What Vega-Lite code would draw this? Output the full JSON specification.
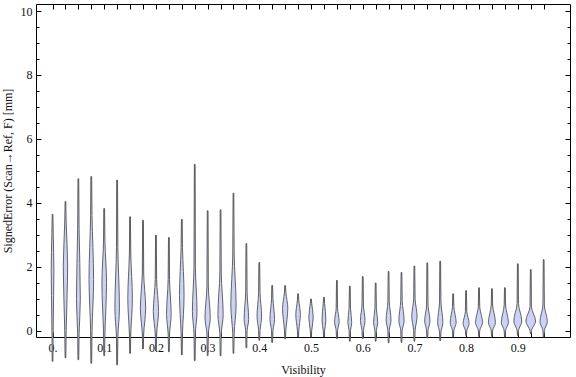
{
  "$schema": "https://vega.github.io/schema/vega-lite/v6.json",
  "width": 534,
  "height": 333,
  "autosize": {"type": "none"},
  "padding": {"left": 36, "top": 4, "right": 6, "bottom": 40},
  "config": {
    "font": "Liberation Serif",
    "view": {"stroke": null},
    "axis": {"grid": false, "domainColor": "#000", "domainWidth": 1, "tickColor": "#000", "tickWidth": 1, "labelFont": "Liberation Serif", "labelFontSize": 12, "labelColor": "#111", "titleFont": "Liberation Serif", "titleFontSize": 12, "titleFontWeight": "normal", "titleColor": "#111", "labelOverlap": false, "labelFlush": false}
  },
  "data": {"values": [
    {"visibility":0,"error":-0.96,"density":0.4},{"visibility":0,"error":0.3,"density":0.8},{"visibility":0,"error":1.9,"density":1.5},{"visibility":0,"error":3.0,"density":0.8},{"visibility":0,"error":3.64,"density":0.4},
    {"visibility":0.025,"error":-0.85,"density":0.4},{"visibility":0.025,"error":0.0,"density":0.8},{"visibility":0.025,"error":2.0,"density":2.5},{"visibility":0.025,"error":3.4,"density":0.8},{"visibility":0.025,"error":4.04,"density":0.4},
    {"visibility":0.05,"error":-0.91,"density":0.4},{"visibility":0.05,"error":-0.1,"density":0.8},{"visibility":0.05,"error":1.0,"density":2.2},{"visibility":0.05,"error":3.2,"density":0.8},{"visibility":0.05,"error":4.75,"density":0.4},
    {"visibility":0.075,"error":-1.02,"density":0.4},{"visibility":0.075,"error":0.0,"density":0.8},{"visibility":0.075,"error":1.6,"density":2.6},{"visibility":0.075,"error":3.6,"density":0.8},{"visibility":0.075,"error":4.82,"density":0.4},
    {"visibility":0.1,"error":-0.78,"density":0.4},{"visibility":0.1,"error":-0.1,"density":0.8},{"visibility":0.1,"error":1.5,"density":2.6},{"visibility":0.1,"error":2.8,"density":0.8},{"visibility":0.1,"error":3.82,"density":0.4},
    {"visibility":0.125,"error":-1.07,"density":0.4},{"visibility":0.125,"error":-0.2,"density":0.8},{"visibility":0.125,"error":0.7,"density":2.6},{"visibility":0.125,"error":2.6,"density":0.8},{"visibility":0.125,"error":4.71,"density":0.4},
    {"visibility":0.15,"error":-0.71,"density":0.4},{"visibility":0.15,"error":-0.1,"density":0.8},{"visibility":0.15,"error":1.0,"density":2.6},{"visibility":0.15,"error":2.4,"density":0.8},{"visibility":0.15,"error":3.56,"density":0.4},
    {"visibility":0.175,"error":-0.57,"density":0.4},{"visibility":0.175,"error":-0.1,"density":0.8},{"visibility":0.175,"error":0.7,"density":3.0},{"visibility":0.175,"error":1.8,"density":0.8},{"visibility":0.175,"error":3.45,"density":0.4},
    {"visibility":0.2,"error":-0.63,"density":0.4},{"visibility":0.2,"error":-0.1,"density":0.8},{"visibility":0.2,"error":0.6,"density":3.0},{"visibility":0.2,"error":1.6,"density":0.8},{"visibility":0.2,"error":2.98,"density":0.4},
    {"visibility":0.225,"error":-0.66,"density":0.4},{"visibility":0.225,"error":-0.1,"density":0.8},{"visibility":0.225,"error":0.5,"density":2.6},{"visibility":0.225,"error":1.6,"density":0.8},{"visibility":0.225,"error":2.91,"density":0.4},
    {"visibility":0.25,"error":-0.76,"density":0.4},{"visibility":0.25,"error":-0.1,"density":0.8},{"visibility":0.25,"error":1.1,"density":2.6},{"visibility":0.25,"error":2.6,"density":0.8},{"visibility":0.25,"error":3.48,"density":0.4},
    {"visibility":0.275,"error":-0.94,"density":0.4},{"visibility":0.275,"error":-0.1,"density":0.8},{"visibility":0.275,"error":0.6,"density":2.6},{"visibility":0.275,"error":2.0,"density":0.8},{"visibility":0.275,"error":5.2,"density":0.4},
    {"visibility":0.3,"error":-0.78,"density":0.4},{"visibility":0.3,"error":-0.1,"density":0.8},{"visibility":0.3,"error":0.4,"density":3.0},{"visibility":0.3,"error":1.4,"density":0.8},{"visibility":0.3,"error":3.75,"density":0.4},
    {"visibility":0.325,"error":-0.79,"density":0.4},{"visibility":0.325,"error":-0.1,"density":0.8},{"visibility":0.325,"error":0.5,"density":3.0},{"visibility":0.325,"error":1.8,"density":0.8},{"visibility":0.325,"error":3.78,"density":0.4},
    {"visibility":0.35,"error":-0.71,"density":0.4},{"visibility":0.35,"error":-0.1,"density":0.8},{"visibility":0.35,"error":0.8,"density":3.0},{"visibility":0.35,"error":2.4,"density":0.8},{"visibility":0.35,"error":4.3,"density":0.4},
    {"visibility":0.375,"error":-0.54,"density":0.4},{"visibility":0.375,"error":0.0,"density":0.8},{"visibility":0.375,"error":0.35,"density":2.6},{"visibility":0.375,"error":1.2,"density":0.8},{"visibility":0.375,"error":2.72,"density":0.4},
    {"visibility":0.4,"error":-0.3,"density":0.4},{"visibility":0.4,"error":0.0,"density":0.8},{"visibility":0.4,"error":0.45,"density":2.6},{"visibility":0.4,"error":1.2,"density":0.8},{"visibility":0.4,"error":2.13,"density":0.4},
    {"visibility":0.425,"error":-0.37,"density":0.4},{"visibility":0.425,"error":0.0,"density":0.8},{"visibility":0.425,"error":0.35,"density":2.6},{"visibility":0.425,"error":1.0,"density":0.8},{"visibility":0.425,"error":1.41,"density":0.4},
    {"visibility":0.45,"error":-0.26,"density":0.4},{"visibility":0.45,"error":0.0,"density":0.8},{"visibility":0.45,"error":0.7,"density":3.0},{"visibility":0.45,"error":1.2,"density":0.8},{"visibility":0.45,"error":1.41,"density":0.4},
    {"visibility":0.475,"error":-0.2,"density":0.4},{"visibility":0.475,"error":0.0,"density":0.8},{"visibility":0.475,"error":0.5,"density":2.6},{"visibility":0.475,"error":0.95,"density":0.8},{"visibility":0.475,"error":1.15,"density":0.4},
    {"visibility":0.5,"error":-0.2,"density":0.4},{"visibility":0.5,"error":0.0,"density":0.8},{"visibility":0.5,"error":0.42,"density":2.5},{"visibility":0.5,"error":0.85,"density":0.8},{"visibility":0.5,"error":0.99,"density":0.4},
    {"visibility":0.525,"error":-0.2,"density":0.4},{"visibility":0.525,"error":0.0,"density":0.8},{"visibility":0.525,"error":0.33,"density":2.2},{"visibility":0.525,"error":0.85,"density":0.8},{"visibility":0.525,"error":1.04,"density":0.4},
    {"visibility":0.55,"error":-0.25,"density":0.4},{"visibility":0.55,"error":0.0,"density":0.8},{"visibility":0.55,"error":0.28,"density":2.6},{"visibility":0.55,"error":0.7,"density":0.8},{"visibility":0.55,"error":1.57,"density":0.4},
    {"visibility":0.575,"error":-0.33,"density":0.4},{"visibility":0.575,"error":0.0,"density":0.8},{"visibility":0.575,"error":0.25,"density":2.2},{"visibility":0.575,"error":0.7,"density":0.8},{"visibility":0.575,"error":1.39,"density":0.4},
    {"visibility":0.6,"error":-0.25,"density":0.4},{"visibility":0.6,"error":0.0,"density":0.8},{"visibility":0.6,"error":0.32,"density":2.6},{"visibility":0.6,"error":0.8,"density":0.8},{"visibility":0.6,"error":1.69,"density":0.4},
    {"visibility":0.625,"error":-0.33,"density":0.4},{"visibility":0.625,"error":0.0,"density":0.8},{"visibility":0.625,"error":0.25,"density":2.4},{"visibility":0.625,"error":0.7,"density":0.8},{"visibility":0.625,"error":1.49,"density":0.4},
    {"visibility":0.65,"error":-0.38,"density":0.4},{"visibility":0.65,"error":0.0,"density":0.8},{"visibility":0.65,"error":0.33,"density":2.8},{"visibility":0.65,"error":0.9,"density":0.8},{"visibility":0.65,"error":1.85,"density":0.4},
    {"visibility":0.675,"error":-0.37,"density":0.4},{"visibility":0.675,"error":0.0,"density":0.8},{"visibility":0.675,"error":0.3,"density":3.0},{"visibility":0.675,"error":0.95,"density":0.8},{"visibility":0.675,"error":1.82,"density":0.4},
    {"visibility":0.7,"error":-0.33,"density":0.4},{"visibility":0.7,"error":0.0,"density":0.8},{"visibility":0.7,"error":0.45,"density":3.0},{"visibility":0.7,"error":1.0,"density":0.8},{"visibility":0.7,"error":2.02,"density":0.4},
    {"visibility":0.725,"error":-0.23,"density":0.4},{"visibility":0.725,"error":0.0,"density":0.8},{"visibility":0.725,"error":0.3,"density":3.0},{"visibility":0.725,"error":0.8,"density":0.8},{"visibility":0.725,"error":2.12,"density":0.4},
    {"visibility":0.75,"error":-0.31,"density":0.4},{"visibility":0.75,"error":-0.05,"density":0.8},{"visibility":0.75,"error":0.25,"density":3.0},{"visibility":0.75,"error":0.9,"density":0.8},{"visibility":0.75,"error":2.17,"density":0.4},
    {"visibility":0.775,"error":-0.2,"density":0.4},{"visibility":0.775,"error":0.0,"density":0.8},{"visibility":0.775,"error":0.25,"density":3.4},{"visibility":0.775,"error":0.75,"density":0.8},{"visibility":0.775,"error":1.15,"density":0.4},
    {"visibility":0.8,"error":-0.15,"density":0.4},{"visibility":0.8,"error":0.0,"density":0.8},{"visibility":0.8,"error":0.22,"density":3.4},{"visibility":0.8,"error":0.6,"density":0.8},{"visibility":0.8,"error":1.25,"density":0.4},
    {"visibility":0.825,"error":-0.18,"density":0.4},{"visibility":0.825,"error":0.0,"density":0.8},{"visibility":0.825,"error":0.25,"density":4.0},{"visibility":0.825,"error":0.75,"density":0.8},{"visibility":0.825,"error":1.34,"density":0.4},
    {"visibility":0.85,"error":-0.18,"density":0.4},{"visibility":0.85,"error":0.0,"density":0.8},{"visibility":0.85,"error":0.25,"density":4.0},{"visibility":0.85,"error":0.8,"density":0.8},{"visibility":0.85,"error":1.31,"density":0.4},
    {"visibility":0.875,"error":-0.2,"density":0.4},{"visibility":0.875,"error":0.0,"density":0.8},{"visibility":0.875,"error":0.25,"density":4.0},{"visibility":0.875,"error":0.8,"density":0.8},{"visibility":0.875,"error":1.34,"density":0.4},
    {"visibility":0.9,"error":-0.15,"density":0.4},{"visibility":0.9,"error":0.0,"density":0.8},{"visibility":0.9,"error":0.3,"density":4.5},{"visibility":0.9,"error":0.85,"density":0.8},{"visibility":0.9,"error":2.09,"density":0.4},
    {"visibility":0.925,"error":-0.1,"density":0.4},{"visibility":0.925,"error":0.0,"density":0.8},{"visibility":0.925,"error":0.3,"density":5.5},{"visibility":0.925,"error":0.75,"density":0.8},{"visibility":0.925,"error":1.91,"density":0.4},
    {"visibility":0.95,"error":-0.2,"density":0.4},{"visibility":0.95,"error":0.0,"density":0.8},{"visibility":0.95,"error":0.28,"density":4.2},{"visibility":0.95,"error":0.8,"density":0.8},{"visibility":0.95,"error":2.22,"density":0.4}
  ]},
  "layer": [
    {
      "mark": {"type": "rule", "stroke": "#444", "strokeWidth": 1},
      "encoding": {
        "x": {"field": "visibility", "type": "quantitative",
              "scale": {"domain": [-0.032, 1.001], "nice": false, "zero": false},
              "axis": {"orient": "bottom", "title": "Visibility", "titlePadding": 11,
                       "values": [0,0.025,0.05,0.075,0.1,0.125,0.15,0.175,0.2,0.225,0.25,0.275,0.3,0.325,0.35,0.375,0.4,0.425,0.45,0.475,0.5,0.525,0.55,0.575,0.6,0.625,0.65,0.675,0.7,0.725,0.75,0.775,0.8,0.825,0.85,0.875,0.9,0.925,0.95],
                       "tickSize": -5, "labelPadding": 10,
                       "labelExpr": "abs(datum.value*10 - round(datum.value*10)) < 0.001 ? (datum.value == 0 ? '0.' : format(datum.value, '.1f')) : ''"}},
        "y": {"aggregate": "min", "field": "error", "type": "quantitative",
              "scale": {"domain": [-0.2, 10.22], "nice": false, "zero": false},
              "axis": {"orient": "left", "title": "SignedError (Scan→Ref, F) [mm]", "titlePadding": 6,
                       "values": [0,0.5,1,1.5,2,2.5,3,3.5,4,4.5,5,5.5,6,6.5,7,7.5,8,8.5,9,9.5,10],
                       "tickSize": {"condition": {"test": "datum.value % 2 === 0", "value": -5}, "value": -3},
                       "labelPadding": 9,
                       "labelExpr": "datum.value % 2 === 0 ? format(datum.value, 'd') : ''"}},
        "y2": {"aggregate": "max", "field": "error"}
      }
    },
    {
      "transform": [
        {"calculate": "datum.visibility - datum.density * 0.0017", "as": "left"},
        {"calculate": "datum.visibility + datum.density * 0.0017", "as": "right"}
      ],
      "mark": {"type": "area", "orient": "horizontal", "interpolate": "monotone", "fill": "#ccd2f6", "fillOpacity": 1, "stroke": "#555", "strokeWidth": 0.9},
      "encoding": {
        "x": {"field": "left", "type": "quantitative",
              "axis": {"orient": "top", "title": null, "labels": false, "tickSize": -5,
                       "values": [0,0.025,0.05,0.075,0.1,0.125,0.15,0.175,0.2,0.225,0.25,0.275,0.3,0.325,0.35,0.375,0.4,0.425,0.45,0.475,0.5,0.525,0.55,0.575,0.6,0.625,0.65,0.675,0.7,0.725,0.75,0.775,0.8,0.825,0.85,0.875,0.9,0.925,0.95]}},
        "x2": {"field": "right"},
        "y": {"field": "error", "type": "quantitative",
              "axis": {"orient": "right", "title": null, "labels": false,
                       "values": [0,0.5,1,1.5,2,2.5,3,3.5,4,4.5,5,5.5,6,6.5,7,7.5,8,8.5,9,9.5,10],
                       "tickSize": {"condition": {"test": "datum.value % 2 === 0", "value": -5}, "value": -3}}},
        "detail": {"field": "visibility", "type": "nominal"}
      }
    }
  ],
  "resolve": {"axis": {"x": "independent", "y": "independent"}}
}
